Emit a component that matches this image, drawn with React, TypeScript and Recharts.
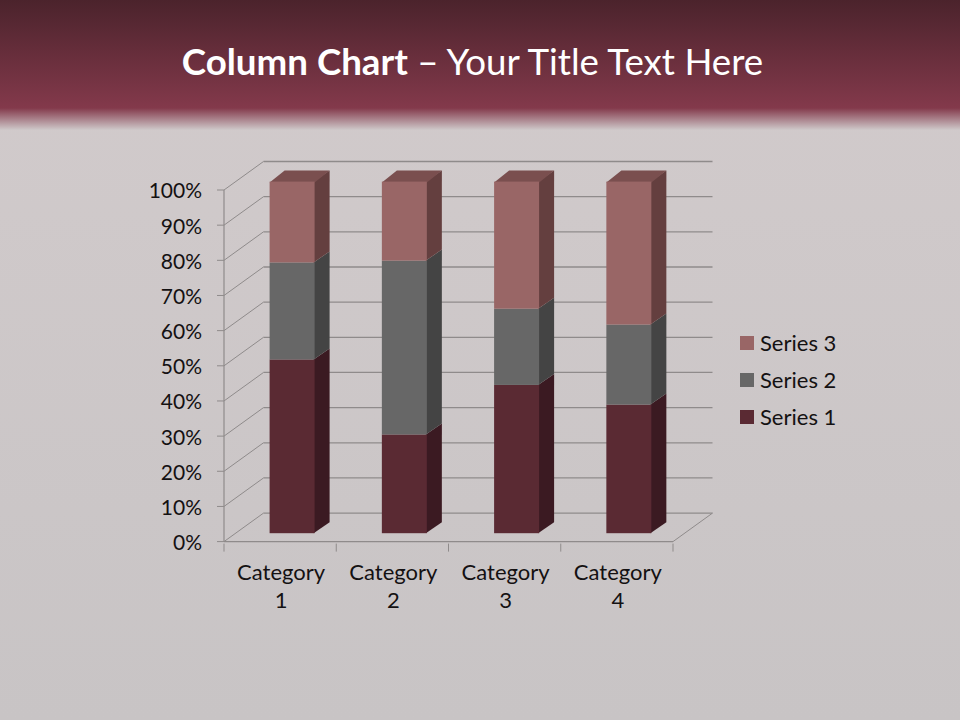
import { Bar, BarChart, CartesianGrid, Legend, XAxis, YAxis } from "recharts";

const categories = ["Category 1", "Category 2", "Category 3", "Category 4"];
const series1 = [4.3, 2.5, 3.5, 4.5];
const series2 = [2.4, 4.4, 1.8, 2.8];
const series3 = [2, 2, 3, 5];
const yTicks = [0, 0.1, 0.2, 0.3, 0.4, 0.5, 0.6, 0.7, 0.8, 0.9, 1];

const data = categories.map((name, i) => ({
  name,
  s1: series1[i],
  s2: series2[i],
  s3: series3[i],
}));

const FONT = "Lato, Carlito, sans-serif";
const TEXT = "#141112";
const LINE = "#8f8b8b";

// depth of the fake 3D box, and how far into it the columns sit
const DEPTH_X = 39.5;
const DEPTH_Y = 28.5;
const BAR_SHIFT_X = 11.6;
const BAR_SHIFT_Y = 8.4;
const BAR_DEPTH_X = 15;
const BAR_DEPTH_Y = 11;

function column(side: string, top?: string) {
  return function ColumnShape(props: any) {
    const x = props.x + BAR_SHIFT_X;
    const y = props.y - BAR_SHIFT_Y;
    const w = props.width;
    const h = props.height;
    const dx = BAR_DEPTH_X;
    const dy = BAR_DEPTH_Y;
    return (
      <g>
        <path
          d={`M${x + w - 1},${y}L${x + w + dx},${y - dy}L${x + w + dx},${y + h - dy}L${x + w - 1},${y + h}Z`}
          fill={side}
        />
        {top && (
          <path
            d={`M${x},${y + 1}L${x + dx},${y - dy}L${x + w + dx},${y - dy}L${x + w},${y + 1}Z`}
            fill={top}
          />
        )}
        <rect x={x} y={y} width={w} height={h} fill={props.fill} />
      </g>
    );
  };
}

function gridLine(props: any) {
  const { x1, y1, x2, index } = props;
  const backY = y1 - DEPTH_Y;
  return (
    <g key={`wall-${index}`}>
      <path
        d={`M${x1},${y1}L${x1 + DEPTH_X},${backY}`}
        stroke={LINE}
        strokeWidth={1}
        fill="none"
      />
      <path
        d={`M${x1 + DEPTH_X},${backY}L${x2 + DEPTH_X},${backY}`}
        stroke={LINE}
        strokeWidth={1.3}
        fill="none"
      />
      {index === 0 && (
        <path
          d={`M${x2},${y1}L${x2 + DEPTH_X},${backY}`}
          stroke={LINE}
          strokeWidth={1}
          fill="none"
        />
      )}
    </g>
  );
}

function CategoryTick(props: any) {
  const { x, y, payload, index, width } = props;
  const parts = String(payload.value).split(" ");
  const half = width / categories.length / 2;
  const top = y - 8;
  return (
    <g>
      <line x1={x - half} x2={x - half} y1={top} y2={top + 8} stroke={LINE} />
      {index === categories.length - 1 && (
        <line x1={x + half} x2={x + half} y1={top} y2={top + 8} stroke={LINE} />
      )}
      <text x={x + 1} textAnchor="middle" fontFamily={FONT} fontSize={22} fill={TEXT}>
        <tspan x={x + 1} y={y + 28}>
          {parts[0]}
        </tspan>
        <tspan x={x + 1} y={y + 56}>
          {parts[1]}
        </tspan>
      </text>
    </g>
  );
}

function LegendList(props: any) {
  const items = [...(props.payload ?? [])].reverse();
  return (
    <div style={{ fontFamily: FONT, fontSize: 22, color: TEXT }}>
      {items.map((item: any) => (
        <div
          key={item.value}
          style={{ display: "flex", alignItems: "center", height: 37 }}
        >
          <span
            style={{
              width: 14,
              height: 14,
              background: item.color,
              marginRight: 6,
            }}
          />
          {item.value}
        </div>
      ))}
    </div>
  );
}

export default function App() {
  return (
    <div
      style={{
        position: "absolute",
        left: 0,
        top: 0,
        width: 960,
        height: 720,
        overflow: "hidden",
        background: "linear-gradient(180deg, #d2cbcc 0%, #c8c4c5 100%)",
      }}
    >
      <div
        style={{
          position: "absolute",
          left: 0,
          top: 0,
          width: 960,
          height: 130,
          background:
            "linear-gradient(180deg, #4b232c 0px, #83394b 108px, #cfc9ca 130px)",
        }}
      />
      <div
        style={{
          position: "absolute",
          left: 0,
          top: 37,
          width: 945,
          textAlign: "center",
          fontFamily: FONT,
          fontSize: 36.7,
          lineHeight: "48px",
          color: "#ffffff",
        }}
      >
        <b>Column Chart</b> – Your Title Text Here
      </div>
      <div style={{ position: "absolute", left: 0, top: 0 }}>
        <BarChart
          width={960}
          height={720}
          data={data}
          stackOffset="expand"
          margin={{ top: 190, right: 287, bottom: 108.4, left: 124 }}
          barSize={45}
        >
          <CartesianGrid horizontal={gridLine} vertical={false} />
          <XAxis
            dataKey="name"
            height={70}
            interval={0}
            axisLine={{ stroke: LINE, strokeWidth: 1.2 }}
            tickLine={false}
            tickSize={8}
            tick={CategoryTick}
            scale="band"
          />
          <YAxis
            width={100}
            domain={[0, 1]}
            ticks={yTicks}
            interval={0}
            axisLine={{ stroke: LINE, strokeWidth: 1.2 }}
            tickLine={{ stroke: LINE }}
            tickSize={7}
            tickMargin={15}
            tick={{ fontFamily: FONT, fontSize: 21, fill: TEXT, dy: 1 }}
            tickFormatter={(v: number) => `${Math.round(v * 100)}%`}
          />
          <Bar
            dataKey="s1"
            name="Series 1"
            stackId="a"
            fill="#5a2a33"
            shape={column("#3b1a22")}
            isAnimationActive={false}
          />
          <Bar
            dataKey="s2"
            name="Series 2"
            stackId="a"
            fill="#676767"
            shape={column("#444444")}
            isAnimationActive={false}
          />
          <Bar
            dataKey="s3"
            name="Series 3"
            stackId="a"
            fill="#996666"
            shape={column("#643f3f", "#7a4f4f")}
            isAnimationActive={false}
          />
          <Legend
            layout="vertical"
            align="center"
            verticalAlign="middle"
            content={LegendList}
            wrapperStyle={{ position: "absolute", left: 740, top: 324, width: 110 }}
          />
        </BarChart>
      </div>
    </div>
  );
}
